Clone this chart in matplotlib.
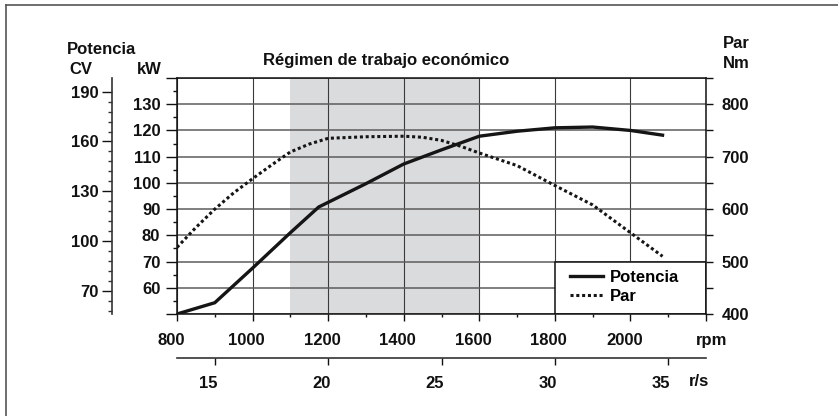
import matplotlib
matplotlib.use("Agg")
import matplotlib.pyplot as plt
import matplotlib.ticker as mtick
import matplotlib.transforms as mtrans
from matplotlib.lines import Line2D
from matplotlib.patches import Rectangle

plt.rcParams["font.family"] = ["Liberation Sans", "DejaVu Sans"]
plt.rcParams["font.weight"] = "bold"
plt.rcParams["font.size"] = 12

# power curve (kW) vs engine speed
power_rpm = [800, 900, 1000, 1100, 1175, 1300, 1400, 1500, 1600, 1700, 1800, 1900, 2000, 2085]
power_kw = [50, 54.3, 67.5, 81, 90.8, 99.7, 107.2, 112.6, 117.8, 119.7, 121.0, 121.3, 120.0, 118.2]

# torque curve (Nm) vs engine speed
torque_rpm = [800, 850, 900, 950, 1000, 1050, 1100, 1150, 1200, 1300, 1400, 1450,
              1500, 1550, 1600, 1700, 1800, 1900, 2000, 2085]
torque_nm = [527, 565, 600, 631, 658, 684, 709, 724, 735, 738, 739, 737,
             731, 720, 707, 683, 645, 608, 555, 510]

eco_range = (1100, 1600)

rpm_ticks = [800, 1000, 1200, 1400, 1600, 1800, 2000, 2200]
rpm_labels = ["800", "1000", "1200", "1400", "1600", "1800", "2000", ""]
rps_ticks = [15, 20, 25, 30, 35]
kw_ticks = [50, 60, 70, 80, 90, 100, 110, 120, 130, 140]
kw_labels = ["", "60", "70", "80", "90", "100", "110", "120", "130", ""]
nm_ticks = [400, 450, 500, 550, 600, 650, 700, 750, 800, 850]
nm_labels = ["400", "", "500", "", "600", "", "700", "", "800", ""]
cv_ticks = [70, 100, 130, 160, 190]

W, H = 838, 416
fig = plt.figure(figsize=(W / 100, H / 100), dpi=100)
ax = fig.add_axes([177 / W, 1 - 314 / H, 529 / W, 236 / H])

ax.set_xlim(800, 2200)
ax.set_ylim(50, 140)

#
# shaded economy band + grid
#
ax.axvspan(*eco_range, color="#dadbdd", zorder=0.5, lw=0)
ax.xaxis.set_major_locator(mtick.FixedLocator(rpm_ticks))
ax.xaxis.set_minor_locator(mtick.MultipleLocator(100))
ax.xaxis.set_major_formatter(mtick.FixedFormatter(rpm_labels))
ax.yaxis.set_major_locator(mtick.FixedLocator(kw_ticks))
ax.yaxis.set_minor_locator(mtick.MultipleLocator(5))
ax.yaxis.set_major_formatter(mtick.FixedFormatter(kw_labels))
ax.grid(axis="x", which="major", color="#3a3a3a", lw=0.8)
ax.grid(axis="y", which="major", color="#5c5c5c", lw=1.1)

for s in ax.spines.values():
    s.set_color("#111111")
    s.set_linewidth(1.1)

ax.tick_params(axis="y", which="major", direction="out", length=8, width=1, pad=4,
               colors="#111111")
ax.tick_params(axis="y", which="minor", direction="out", length=3, width=1, colors="#111111")
ax.tick_params(axis="x", which="major", direction="out", length=5, width=1, pad=8.5,
               colors="#111111")
ax.tick_params(axis="x", which="minor", direction="out", length=2.5, width=1, colors="#111111")

shift = mtrans.ScaledTranslation(-6 / 100, 0, fig.dpi_scale_trans)
for lab in ax.get_xticklabels():
    lab.set_transform(lab.get_transform() + shift)

# legend box
ax.add_patch(Rectangle((1800, 50), 400, 20, facecolor="white", edgecolor="#111111",
                       lw=1.1, zorder=1.8))

ax.plot(power_rpm, power_kw, color="#151515", lw=2.4, solid_joinstyle="miter", zorder=3)

#
# torque axis (right)
#
ax_nm = ax.twinx()
ax_nm.set_ylim(400, 850)
ax_nm.yaxis.set_major_locator(mtick.FixedLocator(nm_ticks))
ax_nm.yaxis.set_major_formatter(mtick.FixedFormatter(nm_labels))
ax_nm.tick_params(axis="y", direction="out", length=4.7, width=1, pad=6.5, colors="#111111")
for s in ax_nm.spines.values():
    s.set_visible(False)
par_style = (0, (1, 0.9))
ax_nm.plot(torque_rpm, torque_nm, color="#151515", lw=2.2,
           linestyle=par_style, dash_capstyle="butt", zorder=3)

#
# CV axis (outer left)
#
cv_lo, cv_hi = 55.9, 198.3
ax_cv = ax.twinx()
ax_cv.set_ylim(cv_lo, cv_hi)
for name, s in ax_cv.spines.items():
    s.set_visible(name == "left")
ax_cv.spines["left"].set_position(("outward", 47))
ax_cv.spines["left"].set_color("#333333")
ax_cv.spines["left"].set_linewidth(1.2)
ax_cv.yaxis.set_ticks_position("left")
ax_cv.yaxis.set_label_position("left")
ax_cv.yaxis.set_major_locator(mtick.FixedLocator(cv_ticks))
ax_cv.yaxis.set_minor_locator(mtick.FixedLocator(list(range(190, 55, -6))))
ax_cv.tick_params(axis="y", which="major", direction="out", length=7, width=1, pad=2.5,
                  colors="#111111")
ax_cv.tick_params(axis="y", which="minor", direction="out", length=3, width=1, colors="#333333")

#
# r/s axis underneath
#
ax_rs = ax.secondary_xaxis(-0.1864, functions=(lambda x: x / 60, lambda x: x * 60))
ax_rs.xaxis.set_major_locator(mtick.FixedLocator(rps_ticks))
ax_rs.xaxis.set_minor_locator(mtick.NullLocator())
ax_rs.spines["bottom"].set_color("#333333")
ax_rs.spines["bottom"].set_linewidth(1.2)
ax_rs.tick_params(axis="x", direction="out", length=5, width=1, pad=8, colors="#111111")
shift_rs = mtrans.ScaledTranslation(-7 / 100, 0, fig.dpi_scale_trans)
for lab in ax_rs.get_xticklabels():
    lab.set_transform(lab.get_transform() + shift_rs)

#
# legend
#
handles = [
    Line2D([0], [0], color="#151515", lw=2.4, label="Potencia"),
    Line2D([0], [0], color="#151515", lw=2.2, linestyle=par_style,
           dash_capstyle="butt", label="Par"),
]
leg = ax_nm.legend(handles=handles, loc="upper left", bbox_to_anchor=(393 / 529, 1 - 192 / 236),
                   frameon=False, handlelength=2.0, handletextpad=0.4, labelspacing=0.22,
                   borderpad=0, borderaxespad=0, fontsize=12)

#
# header texts
#
def ftext(x, y, s, ha="center"):
    fig.text(x / W, 1 - y / H, s, ha=ha, va="center", fontsize=12, fontweight="bold",
             color="#111111")

ftext(101, 50, "Potencia")
ftext(80.5, 69, "CV")
ftext(149, 70, "kW")
ftext(386, 61, "Régimen de trabajo económico")
ftext(722.5, 44, "Par", ha="left")
ftext(722.5, 64, "Nm", ha="left")
ftext(712, 340, "rpm")
ftext(699, 382, "r/s")

# frame
fig.add_artist(Line2D([6 / W, 6 / W], [0, 1 - 5 / H], color="#555555", lw=1.2,
                      transform=fig.transFigure))
fig.add_artist(Line2D([6 / W, 1], [1 - 5 / H, 1 - 5 / H], color="#555555", lw=1.2,
                      transform=fig.transFigure))

fig.savefig("out.png", dpi=100)
